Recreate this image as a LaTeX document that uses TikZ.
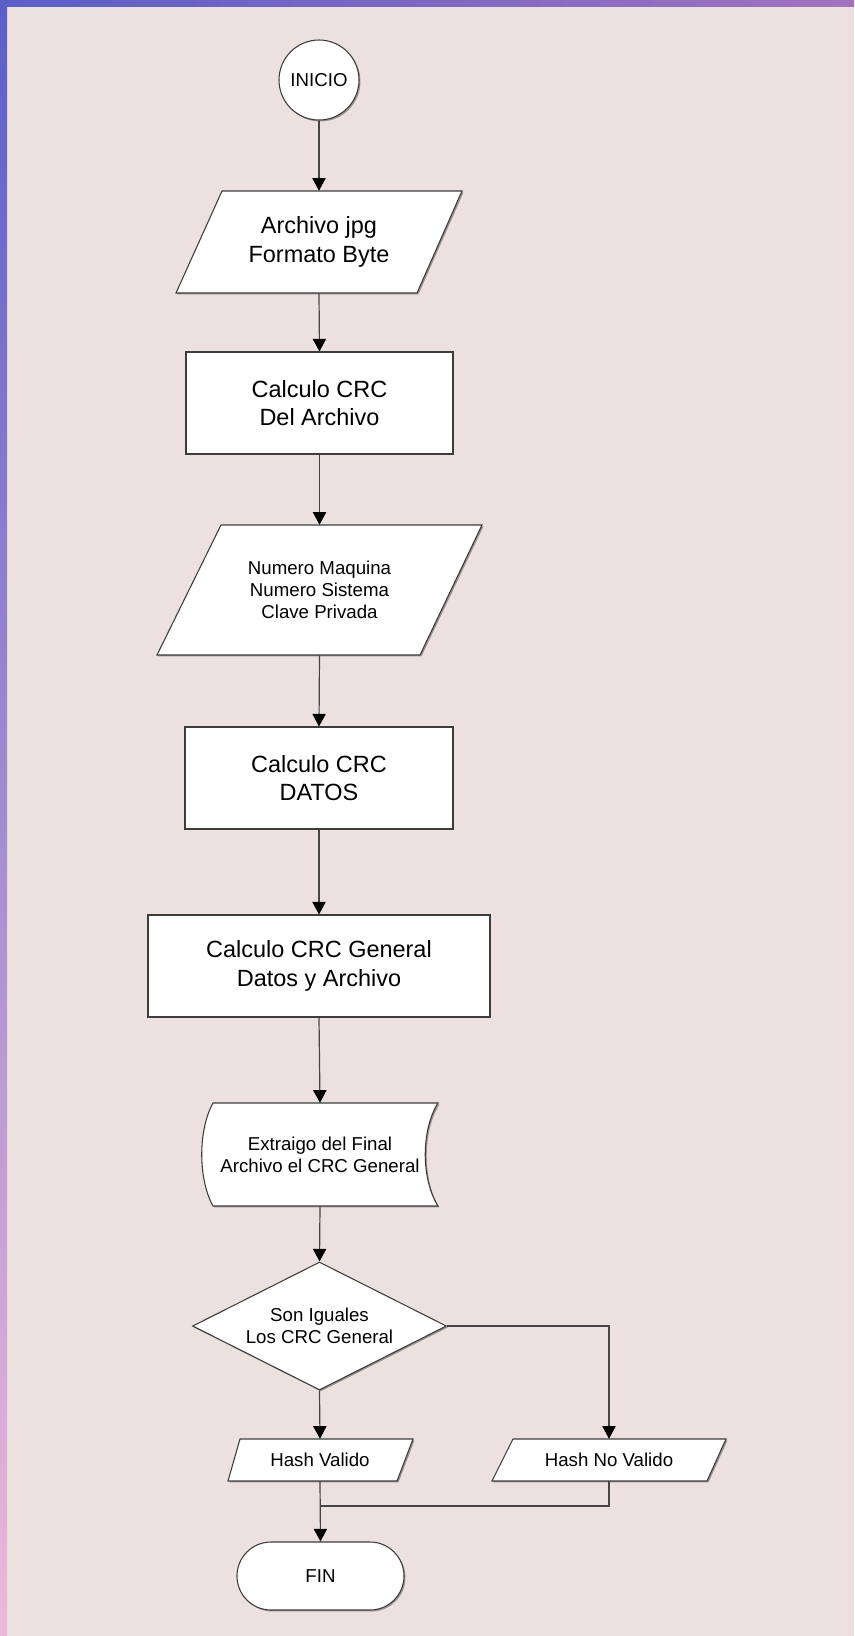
\documentclass[tikz,border=0pt]{standalone}
\usepackage{fontspec}
\setmainfont{Liberation Sans}
\usetikzlibrary{shapes.geometric,arrows.meta,shadows}

\definecolor{paper}{HTML}{EDE1E0}
\definecolor{edge}{HTML}{3C3C3C}
\definecolor{wire}{HTML}{454545}
\definecolor{frameA}{HTML}{5A5FC8}
\definecolor{frameB}{HTML}{C086C6}
\definecolor{frameC}{HTML}{EEB8DA}
\definecolor{frameD}{HTML}{A272BE}

\tikzset{
  boxshadow/.style={drop shadow={shadow xshift=1.1pt, shadow yshift=-1.1pt, opacity=0.35, fill=black}},
  outline/.style={draw=edge, line width=0.8pt, fill=white, boxshadow, line join=miter},
  smalltext/.style={font=\fontsize{14}{16.5}\selectfont, align=center, text=black, inner sep=0pt},
  bigtext/.style={font=\fontsize{17.6}{21.4}\selectfont, align=center, text=black, inner sep=0pt},
  flowbox/.style={rectangle, outline, bigtext},
  holder/.style={rectangle, draw=none, fill=none, inner sep=0pt},
  link/.style={draw=wire, line width=0.9pt, -{Triangle[length=9.5pt, width=10pt, color=black]}},
  plainlink/.style={draw=wire, line width=0.9pt},
}

\begin{document}
\begin{tikzpicture}[x=0.75pt, y=-0.75pt]
\useasboundingbox (0,0) rectangle (854,1636);
% page and coloured frame
\fill[paper] (0,0) rectangle (854,1636);
\shade[top color=frameA, middle color=frameB, bottom color=frameC] (0,0) rectangle (7,1636);
\shade[left color=frameA, right color=frameD] (0,0) rectangle (854,6);

% start
\node[circle, outline, smalltext, minimum size=60pt] (inicio) at (319,80) {INICIO};

% file input
\path[outline] (222,191) -- (462,191) -- (417,293) -- (176,293) -- cycle;
\node[holder, bigtext, minimum height=76.5pt] (archivo) at (319,242) {Archivo jpg\\Formato Byte};

% file CRC
\node[flowbox, minimum width=200.25pt, minimum height=76.5pt] (crcarch) at (319.5,403) {Calculo CRC\\Del Archivo};

% data input
\path[outline] (221,525) -- (482,525) -- (420,655) -- (157,655) -- cycle;
\node[holder, smalltext, minimum height=97.5pt] (datos) at (319.5,590) {Numero Maquina\\Numero Sistema\\Clave Privada};

% data CRC
\node[flowbox, minimum width=201pt, minimum height=76.5pt] (crcdatos) at (319,778) {Calculo CRC\\DATOS};

% general CRC
\node[flowbox, minimum width=256.5pt, minimum height=76.5pt] (crcgen) at (319,966) {Calculo CRC General\\Datos y Archivo};

% stored CRC read back
\path[outline] (213,1103) -- (438,1103) .. controls (421,1130) and (421,1179) .. (438,1206)
  -- (213,1206) .. controls (198,1179) and (198,1130) .. (213,1103) -- cycle;
\node[holder, smalltext, minimum height=77.25pt] (extrae) at (320,1154.5) {Extraigo del Final\\Archivo el CRC General};

% comparison
\node[diamond, outline, smalltext, minimum width=190.5pt, minimum height=96pt, shape aspect=2] (igual) at (319.5,1326) {Son Iguales\\Los CRC General};

% results
\path[outline] (240,1439) -- (413,1439) -- (397,1481) -- (228,1481) -- cycle;
\node[holder, smalltext, minimum height=31.5pt] (valido) at (320,1460) {Hash Valido};
\path[outline] (513,1439) -- (726,1439) -- (707,1481) -- (492,1481) -- cycle;
\node[holder, smalltext, minimum height=31.5pt] (novalido) at (609,1460) {Hash No Valido};

% end
\node[rectangle, outline, smalltext, rounded corners=25.5pt, minimum width=125.25pt, minimum height=51pt] (fin) at (320.5,1576) {FIN};

% connectors
\coordinate (branch) at (609,1326);
\coordinate (merge) at (320,1506);
\coordinate (noback) at (609,1506);

\draw[link] (inicio.south) -- (archivo.north);
\draw[link] (archivo.south) -- (crcarch.north);
\draw[link] (crcarch.south) -- (datos.north);
\draw[link] (datos.south) -- (crcdatos.north);
\draw[link] (crcdatos.south) -- (crcgen.north);
\draw[link] (crcgen.south) -- (extrae.north);
\draw[link] (extrae.south) -- (igual.north);
\draw[link] (igual.south) -- (valido.north);
\draw[link] (igual.east) -- (branch) -- (novalido.north);
\draw[link] (valido.south) -- (fin.north);
\draw[plainlink] (novalido.south) -- (noback) -- (merge);
\end{tikzpicture}
\end{document}
